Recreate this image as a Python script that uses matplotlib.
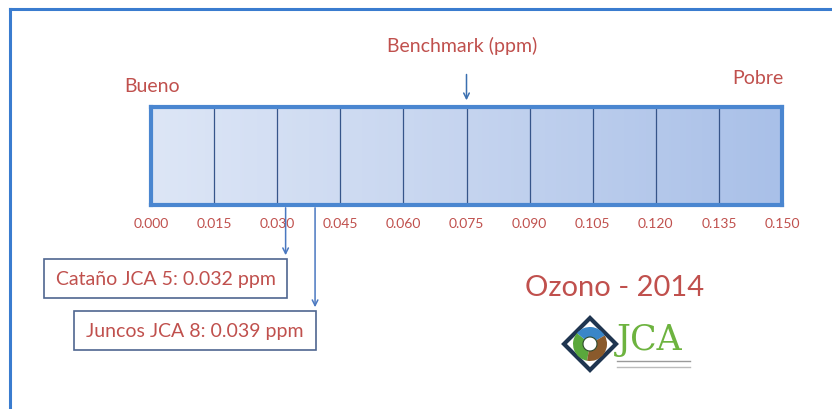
import numpy as np
import matplotlib.pyplot as plt
from matplotlib.patches import Rectangle, Polygon, Wedge
from matplotlib.colors import LinearSegmentedColormap

plt.rcParams['font.family'] = ['Lato', 'DejaVu Sans']

# scale data
ticks = [0.000, 0.015, 0.030, 0.045, 0.060, 0.075, 0.090, 0.105, 0.120, 0.135, 0.150]
tick_labels = ['%.3f' % t for t in ticks]
benchmark = 0.075
stations = ['Cataño JCA 5', 'Juncos JCA 8']
values = [0.032, 0.039]
title = 'Ozono - 2014'

red = '#c0504d'
blue = '#4a86d0'

W, H = 832, 410
fig = plt.figure(figsize=(W / 100, H / 100), dpi=100)

# overlay axes in pixel units for frame, labels and logo
ov = fig.add_axes([0, 0, 1, 1])
ov.set_xlim(0, W)
ov.set_ylim(H, 0)
ov.axis('off')

# frame lines (top and left)
ov.plot([10, W], [10, 10], color='#3a7ccf', lw=2.2)
ov.plot([10, 10], [10, H], color='#3a7ccf', lw=2.2)

# the scale bar
ax = fig.add_axes([151 / W, 1 - 206 / H, 631 / W, 98 / H])
grad = np.linspace(0, 1, 256).reshape(1, -1)
cmap = LinearSegmentedColormap.from_list('g', ['#dde6f6', '#c5d4ef', '#a9c0e8'])
ax.imshow(grad, extent=(ticks[0], ticks[-1], 0, 1), aspect='auto', cmap=cmap)
ax.set_xlim(ticks[0], ticks[-1])
ax.set_ylim(0, 1)
for t in ticks[1:-1]:
    ax.axvline(t, color='#36558a', lw=0.9)
for s in ax.spines.values():
    s.set_color(blue)
    s.set_linewidth(3)
ax.set_yticks([])
ax.set_xticks(ticks)
ax.set_xticklabels(tick_labels)
ax.tick_params(axis='x', length=0, pad=9, labelsize=10, labelcolor=red)

# benchmark arrow
ax.annotate('', xy=(benchmark, 1.04), xycoords='data',
            xytext=(benchmark, 1.36), textcoords='data', annotation_clip=False,
            arrowprops=dict(arrowstyle='->', color='#3a6fb0', lw=1.1))
ov.text(462, 46, 'Benchmark (ppm)', color=red, fontsize=14, ha='center', va='center')
ov.text(124, 87, 'Bueno', color=red, fontsize=14, ha='left', va='center')
ov.text(783, 78, 'Pobre', color=red, fontsize=14, ha='right', va='center')

# station callouts
box_left = [44, 74]
box_top = [260, 312]
box_h = 39
for name, v, bl, bt in zip(stations, values, box_left, box_top):
    xpx = ax.transData.transform((v, 0))[0]
    ax.annotate('', xy=(v, H - bt + 1), xycoords=('data', 'figure pixels'),
                xytext=(v, 0), textcoords='data', annotation_clip=False,
                arrowprops=dict(arrowstyle='->', color='#4a78c0', lw=1.1))
    ov.add_patch(Rectangle((bl, bt), xpx + 1 - bl, box_h, fill=False,
                           edgecolor='#4f6690', lw=1.2))
    ov.text(bl + 12, bt + box_h / 2, '%s: %.3f ppm' % (name, v), color=red,
            fontsize=14, ha='left', va='center')

# title
ov.text(615, 288, title, color=red, fontsize=21, ha='center', va='center')

# logo
cx, cy, r = 590, 345, 26
ov.add_patch(Polygon([(cx, cy - r), (cx + r, cy), (cx, cy + r), (cx - r, cy)],
                     closed=True, facecolor='white', edgecolor='#1f3550', lw=3))
ov.add_patch(Wedge((cx, cy), 17, 100, 220, facecolor='#5aa83c'))
ov.add_patch(Wedge((cx, cy), 17, 220, 330, facecolor='#3a86c8'))
ov.add_patch(Wedge((cx, cy), 17, 330, 460, facecolor='#8a5a2c'))
ov.add_patch(Wedge((cx, cy), 7, 0, 360, facecolor='white', edgecolor='#2d4a2d', lw=0.8))
ov.text(617, 340, 'JCA', color='#6db33f', fontsize=25, family='DejaVu Serif',
        ha='left', va='center')
ov.plot([617, 690], [362, 362], color='#9a9a9a', lw=1)
ov.plot([617, 690], [368, 368], color='#bbbbbb', lw=1)

fig.savefig('out.png', dpi=100)
